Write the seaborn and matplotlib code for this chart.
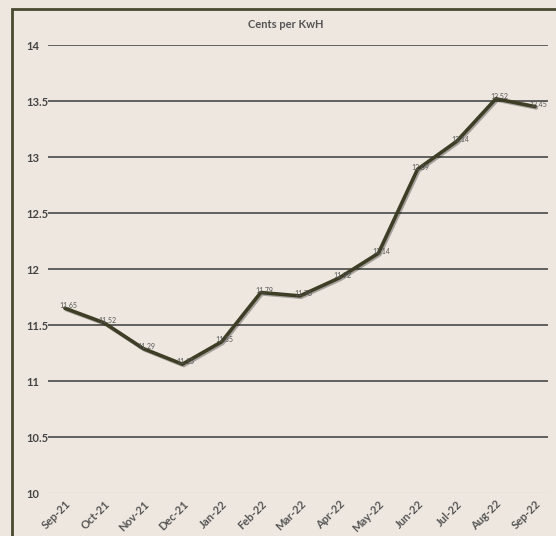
import matplotlib
matplotlib.use('Agg')
import matplotlib.pyplot as plt
import matplotlib.patheffects as pe
from matplotlib.patches import Rectangle
import pandas as pd
import seaborn as sns

months = ["Sep-21", "Oct-21", "Nov-21", "Dec-21", "Jan-22", "Feb-22", "Mar-22",
          "Apr-22", "May-22", "Jun-22", "Jul-22", "Aug-22", "Sep-22"]
cents = [11.65, 11.52, 11.29, 11.15, 11.35, 11.79, 11.76, 11.92, 12.14,
         12.89, 13.14, 13.52, 13.45]
yticks = [10, 10.5, 11, 11.5, 12, 12.5, 13, 13.5, 14]

df = pd.DataFrame({"month": months, "cents": cents})

sns.set_style("white")
plt.rcParams['font.family'] = ['Lato', 'DejaVu Sans']

bg = "#EEE7E0"
fig = plt.figure(figsize=(5.56, 5.36), dpi=100, facecolor=bg)

# chart frame, cut off at right and bottom
fig.patches.append(Rectangle((12 / 556, -0.05), 1.0, 1 - 9 / 536 + 0.05,
                             transform=fig.transFigure, fill=False,
                             edgecolor="#4a4a30", linewidth=2, zorder=0))

ax = fig.add_axes([48 / 556, 43 / 536, 500 / 556, 448 / 536])
ax.set_facecolor(bg)

sns.lineplot(data=df, x="month", y="cents", ax=ax, color="#3e3e26",
             linewidth=2.6, sort=False,
             path_effects=[pe.SimpleLineShadow(offset=(1, -1), alpha=0.3),
                           pe.Normal()])

for i, v in enumerate(cents):
    ax.text(i + 0.08, v + 0.02, f"{v:.2f}", fontsize=5, color="#555555",
            ha="center", va="center", zorder=5)

ax.set_ylim(10, 14)
ax.set_xlim(-0.43, 12.33)
ax.set_yticks(yticks)
ax.set_yticklabels([f"{t:g}" for t in yticks], fontsize=8, color="#444444",
                   fontweight="bold", ha="left")
ax.set_xticks(range(len(months)))
ax.set_xticklabels(months, rotation=45, fontsize=8, color="#555555",
                   fontweight="bold", ha="right", rotation_mode="anchor")
ax.tick_params(axis="y", length=0, pad=22 * 0.72)
ax.tick_params(axis="x", length=0, pad=4)

for t in yticks:
    if t == 10:
        ax.axhline(t, color="#dcd6cf", linewidth=1, zorder=0)
    else:
        ax.axhline(t, color="#555555", linewidth=1.3, zorder=0)

for s in ax.spines.values():
    s.set_visible(False)
ax.set_xlabel("")
ax.set_ylabel("")

fig.text(286 / 556, 1 - 25 / 536, "Cents per KwH", ha="center", va="center",
         fontsize=8, fontweight="bold", color="#555555")

fig.savefig("out.png", dpi=100, facecolor=bg)
